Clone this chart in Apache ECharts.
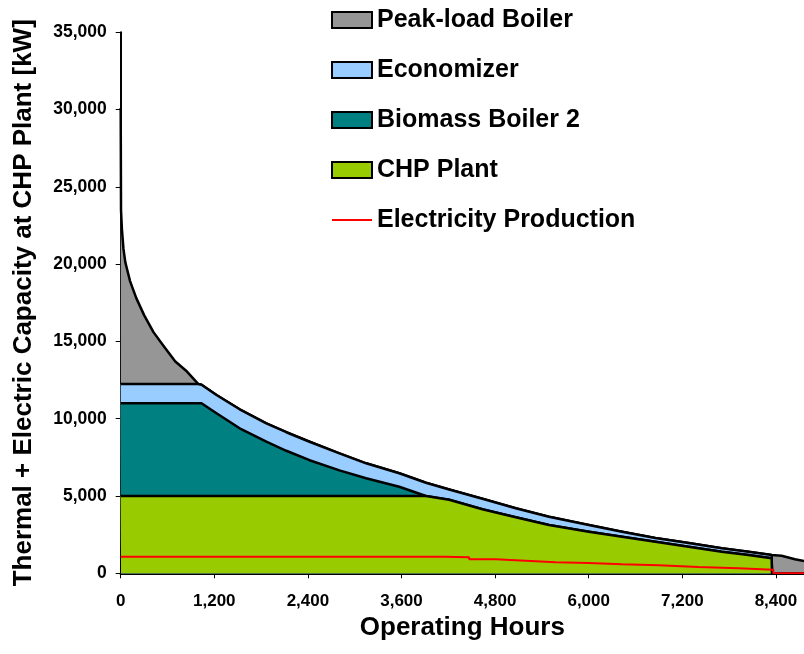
<!DOCTYPE html>
<html>
<head>
<meta charset="utf-8">
<script src="https://cdn.jsdelivr.net/npm/echarts@6/dist/echarts.min.js"></script>
<style>
  html, body { margin: 0; padding: 0; background: #fff; }
  #chart { width: 804px; height: 654px; }
</style>
</head>
<body>
<div id="chart"></div>
<script>
// Load duration curve: hours of the year, sorted by descending heat demand
const hours = [0, 4, 15, 35, 60, 120, 200, 300, 420, 550, 700, 850, 993, 1036, 1228, 1525, 1867, 2123, 2421, 2804, 3146, 3571, 3913, 4211, 4637, 5064, 5490, 6001, 6427, 6854, 7280, 7706, 8047, 8345, 8350, 8473, 8644, 8760];

// Capacity supplied by each unit [kW], listed from the bottom of the stack
const chpPlant = [5000, 5000, 5000, 5000, 5000, 5000, 5000, 5000, 5000, 5000, 5000, 5000, 5000, 5000, 5000, 5000, 5000, 5000, 5000, 5000, 5000, 5000, 5000, 4760, 4140, 3620, 3125, 2690, 2370, 2045, 1720, 1400, 1185, 970, 0, 0, 0, 0];
const biomassBoiler2 = [6000, 6000, 6000, 6000, 6000, 6000, 6000, 6000, 6000, 6000, 6000, 6000, 6000, 6000, 5350, 4380, 3510, 2925, 2315, 1660, 1145, 600, 0, 0, 0, 0, 0, 0, 0, 0, 0, 0, 0, 0, 0, 0, 0, 0];
const economizer = [1250, 1250, 1250, 1250, 1250, 1250, 1250, 1250, 1250, 1250, 1250, 1250, 1250, 1200, 1180, 1230, 1190, 1200, 1195, 1100, 970, 870, 860, 660, 680, 585, 535, 435, 320, 240, 240, 215, 215, 215, 0, 0, 0, 0];
const peakLoadBoiler = [17850, 11250, 10050, 8750, 7850, 6650, 5550, 4450, 3350, 2450, 1450, 800, 0, 0, 0, 0, 0, 0, 0, 0, 0, 0, 0, 0, 0, 0, 0, 0, 0, 0, 0, 0, 0, 0, 1180, 1140, 905, 800];

// Electricity production of the CHP plant [kW], stepwise
const elecHours = [0, 4150, 4467, 4808, 5191, 5575, 6001, 6427, 6896, 7407, 7918, 8367, 8760];
const electricity = [1075, 1035, 905, 815, 710, 665, 580, 515, 405, 320, 235, 0, 0];

const xTicks = [0, 1200, 2400, 3600, 4800, 6000, 7200, 8400];

const FONT = '"Liberation Sans", Arial, sans-serif';
const fmt = v => v.toLocaleString('en-US');

const layers = [
  { name: 'CHP Plant', data: chpPlant, color: '#99CC00' },
  { name: 'Biomass Boiler 2', data: biomassBoiler2, color: '#008080' },
  { name: 'Economizer', data: economizer, color: '#99CCFF' },
  { name: 'Peak-load Boiler', data: peakLoadBoiler, color: '#969696' }
];

// Running totals give the upper edge of each band; every band is filled
// down to the axis and the bands further up are painted first.
const running = hours.map(() => 0);
const series = layers.map((l, k) => {
  const top = hours.map((h, i) => (running[i] += l.data[i]));
  return {
    name: l.name,
    type: 'line',
    data: hours.map((h, i) => [h, top[i]]),
    symbol: 'none',
    z: 2 + (layers.length - k),
    itemStyle: { color: l.color },
    lineStyle: { color: '#000', width: 2.5, join: 'round' },
    areaStyle: { color: l.color, opacity: 1 },
    emphasis: { disabled: true },
    animation: false
  };
});

series.push({
  name: 'Electricity Production',
  type: 'line',
  step: 'end',
  data: elecHours.map((h, i) => [h, electricity[i]]),
  symbol: 'none',
  z: 8,
  itemStyle: { color: '#FF0000' },
  lineStyle: { color: '#FF0000', width: 2 },
  emphasis: { disabled: true },
  animation: false
});

const legendBox = (name, color) => ({
  name, icon: 'rect',
  itemStyle: { color, borderColor: '#000', borderWidth: 2 }
});

const chart = echarts.init(document.getElementById('chart'), null, { renderer: 'canvas' });
chart.setOption({
  animation: false,
  backgroundColor: '#fff',
  textStyle: { fontFamily: FONT },
  legend: {
    orient: 'vertical',
    left: 331,
    top: 5,
    padding: 0,
    itemWidth: 40,
    itemHeight: 16,
    itemGap: 20,
    selectedMode: false,
    textStyle: { fontFamily: FONT, fontWeight: 'bold', fontSize: 25, lineHeight: 30, color: '#000' },
    data: [
      legendBox('Peak-load Boiler', '#969696'),
      legendBox('Economizer', '#99CCFF'),
      legendBox('Biomass Boiler 2', '#008080'),
      legendBox('CHP Plant', '#99CC00'),
      {
        name: 'Electricity Production',
        icon: 'path://M0,0 M0,16 M0,7 L40,7 L40,9 L0,9 Z',
        itemStyle: { color: '#FF0000', borderWidth: 0 }
      }
    ]
  },
  grid: { left: 120.7, top: 32.2, width: 685.8, height: 541.1, containLabel: false },
  xAxis: {
    type: 'value',
    min: 0,
    max: 8760,
    interval: 1200,
    name: 'Operating Hours',
    nameLocation: 'middle',
    nameGap: 37,
    nameTextStyle: { fontFamily: FONT, fontWeight: 'bold', fontSize: 26, color: '#000' },
    axisLine: { show: true, onZero: false, lineStyle: { color: '#000', width: 2 } },
    axisTick: { show: true, length: 5, customValues: xTicks, lineStyle: { color: '#000', width: 1 } },
    axisLabel: {
      customValues: xTicks,
      formatter: v => fmt(v),
      fontFamily: FONT, fontWeight: 'bold', fontSize: 17, color: '#000', margin: 20
    },
    splitLine: { show: false }
  },
  yAxis: {
    type: 'value',
    min: 0,
    max: 35000,
    interval: 5000,
    name: 'Thermal + Electric Capacity at CHP Plant [kW]',
    nameLocation: 'middle',
    nameGap: 84,
    nameTextStyle: { fontFamily: FONT, fontWeight: 'bold', fontSize: 26, color: '#000' },
    axisLine: { show: true, onZero: false, lineStyle: { color: '#000', width: 2 } },
    axisTick: { show: true, length: 5, lineStyle: { color: '#000', width: 1 } },
    axisLabel: {
      formatter: v => fmt(v),
      fontFamily: FONT, fontWeight: 'bold', fontSize: 17.5, color: '#000', margin: 14
    },
    splitLine: { show: false }
  },
  series
});
</script>
</body>
</html>
